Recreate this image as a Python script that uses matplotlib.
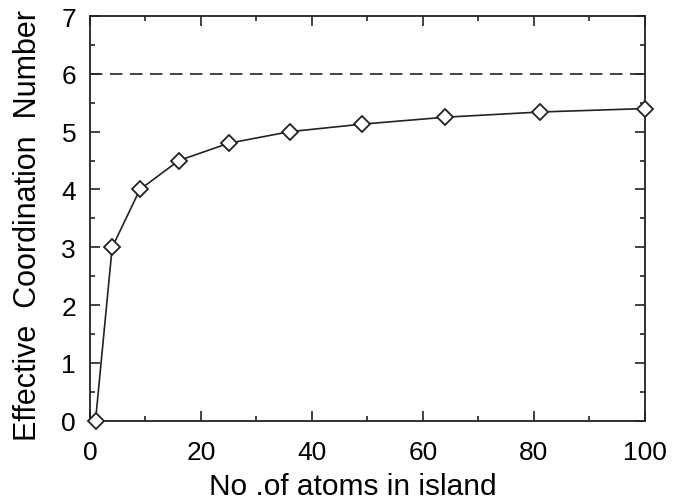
import matplotlib.pyplot as plt
from matplotlib.ticker import MultipleLocator

# data
n_atoms = [1, 4, 9, 16, 25, 36, 49, 64, 81, 100]
coord_num = [0.0, 3.0, 4.0, 4.5, 4.8, 5.0, 5.13, 5.25, 5.34, 5.40]
bulk_cn = 6

plt.rcParams['font.family'] = ['Liberation Sans', 'DejaVu Sans']

fig = plt.figure(figsize=(6.75, 5.02), dpi=100)
ax = fig.add_axes([0.1333, 0.16, 0.8222, 0.806])

ax.axhline(bulk_cn, color='#222222', lw=1.2, ls=(0, (7.5, 4.5)))
ax.plot(n_atoms, coord_num, color='#222222', lw=1.2, marker='D', ms=8,
        mfc='white', mec='#222222', mew=1.3, clip_on=False, zorder=3)

ax.set_xlim(0, 100)
ax.set_ylim(0, 7)
ax.xaxis.set_major_locator(MultipleLocator(20))
ax.xaxis.set_minor_locator(MultipleLocator(10))
ax.yaxis.set_major_locator(MultipleLocator(1))
ax.yaxis.set_minor_locator(MultipleLocator(0.5))

ax.tick_params(which='both', direction='in', top=True, right=True,
               width=1.2, color='#222222', labelsize=19)
ax.tick_params(which='major', length=7)
ax.tick_params(which='minor', length=3.5)
ax.tick_params(axis='x', which='major', pad=14)
ax.tick_params(axis='y', which='major', pad=10)
for sp in ax.spines.values():
    sp.set_linewidth(1.3)
    sp.set_color('#222222')

ax.set_xlabel("No .of atoms in island", fontsize=21.5)
ax.set_ylabel("Effective  Coordination  Number", fontsize=22)
ax.xaxis.set_label_coords(0.474, -0.126)
ax.yaxis.set_label_coords(-0.085, 0.484)

plt.savefig("out.png", dpi=100)
